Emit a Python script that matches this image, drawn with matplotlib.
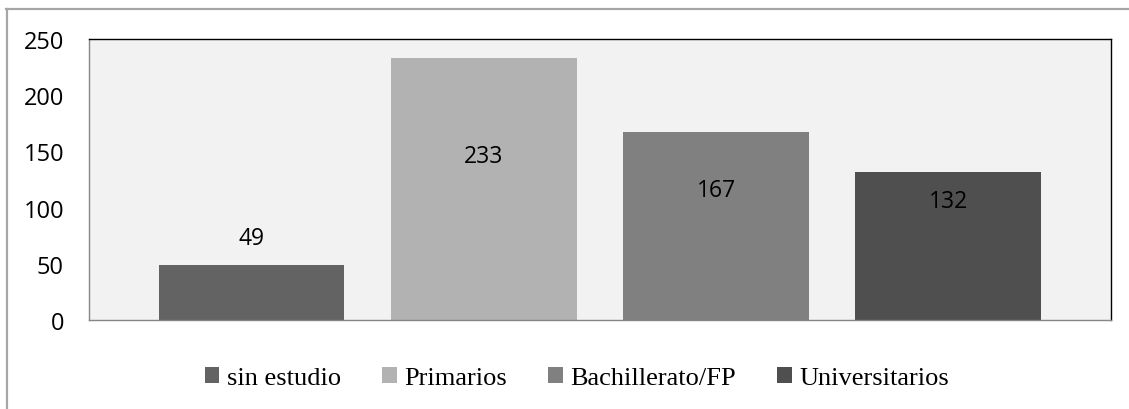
import matplotlib.pyplot as plt
from matplotlib.lines import Line2D

# nivel de estudios
categorias = ['sin estudio', 'Primarios', 'Bachillerato/FP', 'Universitarios']
valores = [49, 233, 167, 132]
colores = ['#636363', '#b2b2b2', '#808080', '#4f4f4f']
# desplazamiento vertical (pixeles) de cada etiqueta respecto al tope de la barra
desp_etiqueta = [27, -98, -58, -29]

fig = plt.figure(figsize=(11.29, 4.10), dpi=100)
ax = fig.add_axes([0.0788, 0.2171, 0.9052, 0.6853])
ax.set_facecolor('#f2f2f2')

barras = []
for i in range(len(valores)):
    b = ax.bar(i, valores[i], width=0.8, color=colores[i], label=categorias[i])
    barras.append(b[0])
    ax.annotate(str(valores[i]), xy=(i, valores[i]), xytext=(0, desp_etiqueta[i]),
                textcoords='offset pixels', ha='center', va='center',
                fontsize=16.5, family='Open Sans', color='black')

ax.set_xlim(-0.7, 3.7)
ax.set_ylim(0, 250)
ax.set_yticks([0, 50, 100, 150, 200, 250])
ax.set_xticks([])
ax.tick_params(axis='y', length=0, pad=18)
for lab in ax.get_yticklabels():
    lab.set_fontfamily('Open Sans')
    lab.set_fontsize(17)

ax.spines['top'].set_color('black')
ax.spines['right'].set_color('black')
ax.spines['left'].set_color('#868686')
ax.spines['bottom'].set_color('#868686')
for s in ax.spines.values():
    s.set_linewidth(1)

leg = fig.legend(handles=barras, labels=categorias, ncol=4, loc='center',
                 bbox_to_anchor=(577 / 1129, 1 - 379 / 410), frameon=False,
                 prop={'family': 'Liberation Serif', 'size': 19},
                 handlelength=0.55, handleheight=0.55, handletextpad=0.3,
                 columnspacing=1.55)

# marco exterior del grafico
fig.add_artist(Line2D([6 / 1129, 1], [1 - 10 / 410] * 2, color='#a6a6a6', lw=1.6,
                      transform=fig.transFigure))
fig.add_artist(Line2D([7 / 1129] * 2, [0, 1 - 10 / 410], color='#a6a6a6', lw=1.6,
                      transform=fig.transFigure))

fig.savefig('out.png', dpi=100)
